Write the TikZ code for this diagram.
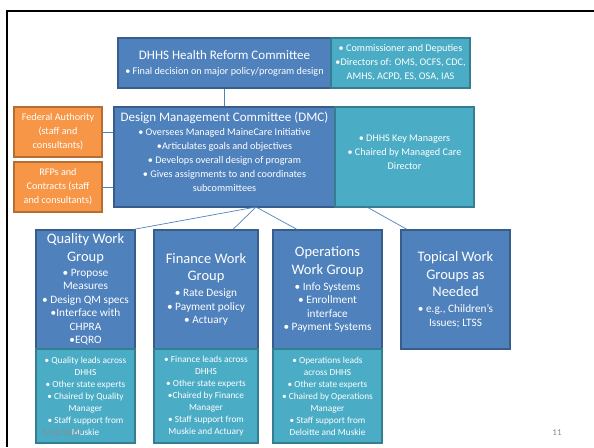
\documentclass[tikz,border=0pt]{standalone}
\usepackage{fontspec}
\setmainfont{Carlito}

\definecolor{dkblue}{HTML}{4F81BD}
\definecolor{dkblueline}{HTML}{385D8A}
\definecolor{aqua}{HTML}{4BACC6}
\definecolor{aqualine}{HTML}{357D91}
\definecolor{orng}{HTML}{F79646}
\definecolor{orngline}{HTML}{B66D31}
\definecolor{datagray}{HTML}{8C8C8C}

\newcommand{\ttl}{\fontsize{14.5}{17.5}\selectfont}
\newcommand{\hdr}{\fontsize{13}{16}\selectfont}
\newcommand{\btl}{\fontsize{11.3}{13.5}\selectfont}
\newcommand{\sml}{\fontsize{10.2}{14}\selectfont}

\begin{document}
\begin{tikzpicture}[x=1pt, y=-1pt,
    box/.style = {rectangle, line width=1.2pt, text=white, align=center, inner sep=1pt},
    main/.style = {box, fill=dkblue, draw=dkblueline},
    side/.style = {box, fill=aqua, draw=aqualine},
    extra/.style = {box, fill=orng, draw=orngline, font=\sml},
    low/.style = {side, font=\fontsize{9.3}{12}\selectfont},
    link/.style = {draw=dkblue, line width=0.7pt}]
    \useasboundingbox (0,0) rectangle (594,447);

    % slide frame
    \draw[line width=2pt] (7,447) -- (7,10.5) -- (594,10.5);

    % Nivel 1
    \node[main, font=\sml, minimum width=213, minimum height=50] (hrc) at (224.5,63)
        {\hdr DHHS Health Reform Committee\\[1pt] • Final decision on major policy/program design};
    \node[side, font=\sml, minimum width=139, minimum height=50] (hrcside) at (400.5,63)
        {• Commissioner and Deputies\\ •Directors of: OMS, OCFS, CDC,\\ AMHS, ACPD, ES, OSA, IAS};

    % Nivel 2
    \node[main, font=\sml, minimum width=221, minimum height=100] (dmc) at (224.5,157)
        {\hdr Design Management Committee (DMC)\\
         • Oversees Managed MaineCare Initiative\\ •Articulates goals and objectives\\
         • Develops overall design of program\\ • Gives assignments to and coordinates\\
         subcommittees\\[-4pt]\mbox{}};
    \node[side, font=\sml, minimum width=139, minimum height=100] (dmcside) at (404.5,157)
        {• DHHS Key Managers\\ • Chaired by Managed Care\\ Director\\[-4pt]\mbox{}};
    \node[extra, minimum width=88, minimum height=50] (fed) at (58,132)
        {Federal Authority\\ (staff and\\ consultants)};
    \node[extra, minimum width=88, minimum height=50] (rfp) at (58,187)
        {RFPs and\\ Contracts (staff\\ and consultants)};

    % Nivel 3
    \node[main, font=\btl, minimum width=99, minimum height=119] (quality) at (85.5,289.5)
        {\ttl Quality Work\\[4pt] \ttl Group\\[1.5pt]
         • Propose\\ Measures\\ • Design QM specs\\ •Interface with\\ CHPRA\\ •EQRO};
    \node[main, font=\btl, minimum width=104, minimum height=119] (finance) at (206,289.5)
        {\ttl Finance Work\\[4pt] \ttl Group\\[2.5pt]
         • Rate Design\\ • Payment policy\\ • Actuary};
    \node[main, font=\btl, minimum width=109, minimum height=119] (ops) at (327.5,289.5)
        {\ttl Operations\\[4pt] \ttl Work Group\\[2.5pt]
         • Info Systems\\ • Enrollment\\ interface\\ • Payment Systems};
    \node[main, font=\btl, minimum width=109, minimum height=119] (topical) at (455.5,289.5)
        {\ttl Topical Work\\[4pt] \ttl Groups as\\[4pt] \ttl Needed\\[2.5pt]
         • e.g., Children’s\\ Issues; LTSS};

    % Nivel 4
    \node[low, minimum width=99, minimum height=94] (qualitylow) at (85.5,396)
        {• Quality leads across\\ DHHS\\ • Other state experts\\ • Chaired by Quality\\
         Manager\\ • Staff support from\\ Muskie};
    \node[low, minimum width=104, minimum height=94] (financelow) at (206,396)
        {• Finance leads across\\ DHHS\\ • Other state experts\\ •Chaired by Finance\\
         Manager\\ • Staff support from\\ Muskie and Actuary};
    \node[low, minimum width=109, minimum height=94] (opslow) at (327.5,396)
        {• Operations leads\\ across DHHS\\ • Other state experts\\ • Chaired by Operations\\
         Manager\\ • Staff support from\\ Deloitte and Muskie};

    % footer
    \node[anchor=west, text=datagray, font=\fontsize{9}{11}\selectfont, inner sep=0pt] (date) at (42,433) {9/16/2010};
    \node[text=datagray, font=\fontsize{9}{11}\selectfont, inner sep=0pt] (page) at (557,433) {11};

    % Conexiones
    \coordinate (hubA) at (256,207);
    \coordinate (hubB) at (367,207);
    \draw[link] (hrc.south) -- (dmc.north);
    \draw[link] (fed.east) -- (fed.east -| dmc.west);
    \draw[link] (rfp.east) -- (rfp.east -| dmc.west);
    \draw[link] (hubA) -- ([xshift=-2pt]quality.north east);
    \draw[link] (hubA) -- ([xshift=27pt]finance.north);
    \draw[link] (hubA) -- ([xshift=-30.5pt]ops.north);
    \draw[link] (hubB) -- ([xshift=-48.5pt]topical.north);
\end{tikzpicture}
\end{document}
